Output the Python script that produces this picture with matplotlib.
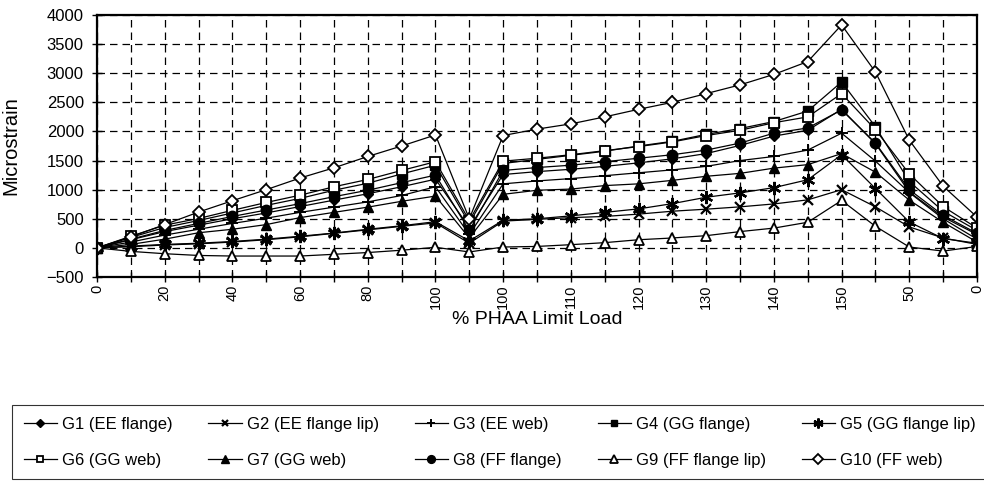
import matplotlib
matplotlib.use("Agg")
import matplotlib.pyplot as plt

plt.rcParams['font.family'] = ['Liberation Sans', 'DejaVu Sans']

load_pct = ["0", "10", "20", "30", "40", "50", "60", "70", "80", "90", "100", "0",
            "100", "105", "110", "115", "120", "125", "130", "135", "140", "145", "150",
            "100", "50", "25", "0"]

g1 = [0, 140, 280, 390, 500, 600, 710, 820, 930, 1050, 1180, 350, 1260, 1310, 1350, 1400, 1460, 1530, 1620, 1760, 1920, 2020, 2380, 1790, 960, 530, 230]
g2 = [0, 20, 50, 70, 100, 140, 190, 250, 310, 370, 430, 80, 460, 490, 520, 540, 580, 630, 665, 705, 755, 825, 1000, 705, 360, 170, 60]
g3 = [0, 100, 220, 320, 420, 510, 610, 700, 790, 900, 1050, 230, 1100, 1150, 1190, 1240, 1290, 1340, 1400, 1500, 1570, 1680, 1970, 1490, 950, 500, 150]
g4 = [0, 180, 350, 470, 600, 730, 850, 990, 1110, 1270, 1420, 420, 1450, 1520, 1590, 1660, 1750, 1830, 1950, 2050, 2170, 2350, 2850, 2080, 1140, 630, 300]
g5 = [0, 30, 60, 80, 110, 150, 200, 255, 320, 380, 450, 120, 475, 500, 550, 610, 670, 760, 870, 945, 1035, 1170, 1600, 1020, 445, 160, 80]
g6 = [0, 200, 390, 505, 645, 780, 905, 1050, 1175, 1330, 1480, 470, 1490, 1540, 1600, 1670, 1740, 1820, 1930, 2020, 2150, 2250, 2650, 2030, 1270, 710, 340]
g7 = [0, 60, 150, 260, 320, 400, 520, 610, 700, 800, 890, 170, 920, 990, 1010, 1070, 1100, 1160, 1230, 1280, 1370, 1430, 1620, 1300, 820, 440, 100]
g8 = [0, 150, 300, 420, 540, 650, 760, 880, 990, 1120, 1250, 300, 1330, 1380, 1420, 1480, 1540, 1600, 1680, 1800, 1970, 2060, 2370, 1800, 1000, 560, 250]
g9 = [0, -60, -100, -130, -140, -140, -140, -110, -80, -40, 10, -70, 15, 25, 55, 90, 140, 170, 210, 280, 340, 440, 815, 370, 15, -55, 25]
g10 = [0, 190, 400, 615, 810, 1000, 1200, 1375, 1570, 1750, 1940, 500, 1930, 2040, 2130, 2250, 2380, 2500, 2650, 2800, 2980, 3200, 3830, 3020, 1850, 1060, 530]

names = ["G1 (EE flange)", "G2 (EE flange lip)", "G3 (EE web)", "G4 (GG flange)",
         "G5 (GG flange lip)", "G6 (GG web)", "G7 (GG web)", "G8 (FF flange)",
         "G9 (FF flange lip)", "G10 (FF web)"]
series = [g1, g2, g3, g4, g5, g6, g7, g8, g9, g10]
styles = [
    dict(marker='D', mfc='black', ms=5.5),
    dict(marker='x', mfc='black', ms=6.5, mew=1.6),
    dict(marker='+', mfc='black', ms=8.5, mew=1.4),
    dict(marker='s', mfc='black', ms=6.5),
    dict(marker=(6, 2, 0), mfc='black', ms=9.5, mew=1.7),
    dict(marker='s', mfc='white', ms=6.5, mew=1.3),
    dict(marker='^', mfc='black', ms=7.5),
    dict(marker='o', mfc='black', ms=7.5),
    dict(marker='^', mfc='white', ms=7.5, mew=1.3),
    dict(marker='D', mfc='white', ms=6.5, mew=1.3),
]

fig = plt.figure(figsize=(9.84, 4.82), dpi=100)
ax = fig.add_axes([97/984, 1 - 277/482, (977 - 97)/984, (277 - 15)/482])

x = list(range(len(load_pct)))
handles = []
for vals, name, st in zip(series, names, styles):
    h, = ax.plot(x, vals, color='black', lw=0.9, mec='black', label=name, **st)
    handles.append(h)

ax.set_xlim(0, len(load_pct) - 1)
ax.set_ylim(-500, 4000)
ax.set_yticks(range(-500, 4001, 500))
ax.set_xticks(x)
ax.set_xticklabels([lab if i % 2 == 0 else "" for i, lab in enumerate(load_pct)],
                   rotation=90, fontsize=10.5)
ax.tick_params(axis='y', labelsize=12, direction='inout', length=7, width=1, pad=6)
ax.tick_params(axis='x', direction='inout', length=7, width=1, pad=2)
ax.grid(True, color='black', linestyle=(0, (6, 4)), linewidth=0.9)
for sp in ax.spines.values():
    sp.set_linewidth(1.6)

ax.set_ylabel("Microstrain", fontsize=14.5)
ax.yaxis.set_label_coords((20 - 97) / 880, 0.5)
ax.set_xlabel("% PHAA Limit Load", fontsize=14, va='center')
ax.xaxis.set_label_coords(0.5, (277 - 319) / 262)

order = [0, 5, 1, 6, 2, 7, 3, 8, 4, 9]
leg = fig.legend([handles[i] for i in order], [names[i] for i in order],
                 ncol=5, loc='upper left', bbox_to_anchor=(12/984, 1 - 405/482),
                 borderaxespad=0.0,
                 frameon=True, fancybox=False, edgecolor='black', fontsize=12,
                 handlelength=2.0, handletextpad=0.3, columnspacing=2.15,
                 labelspacing=1.25, markerscale=0.75, borderpad=0.7)
leg.get_frame().set_linewidth(0.8)

fig.savefig("out.png", dpi=100)
